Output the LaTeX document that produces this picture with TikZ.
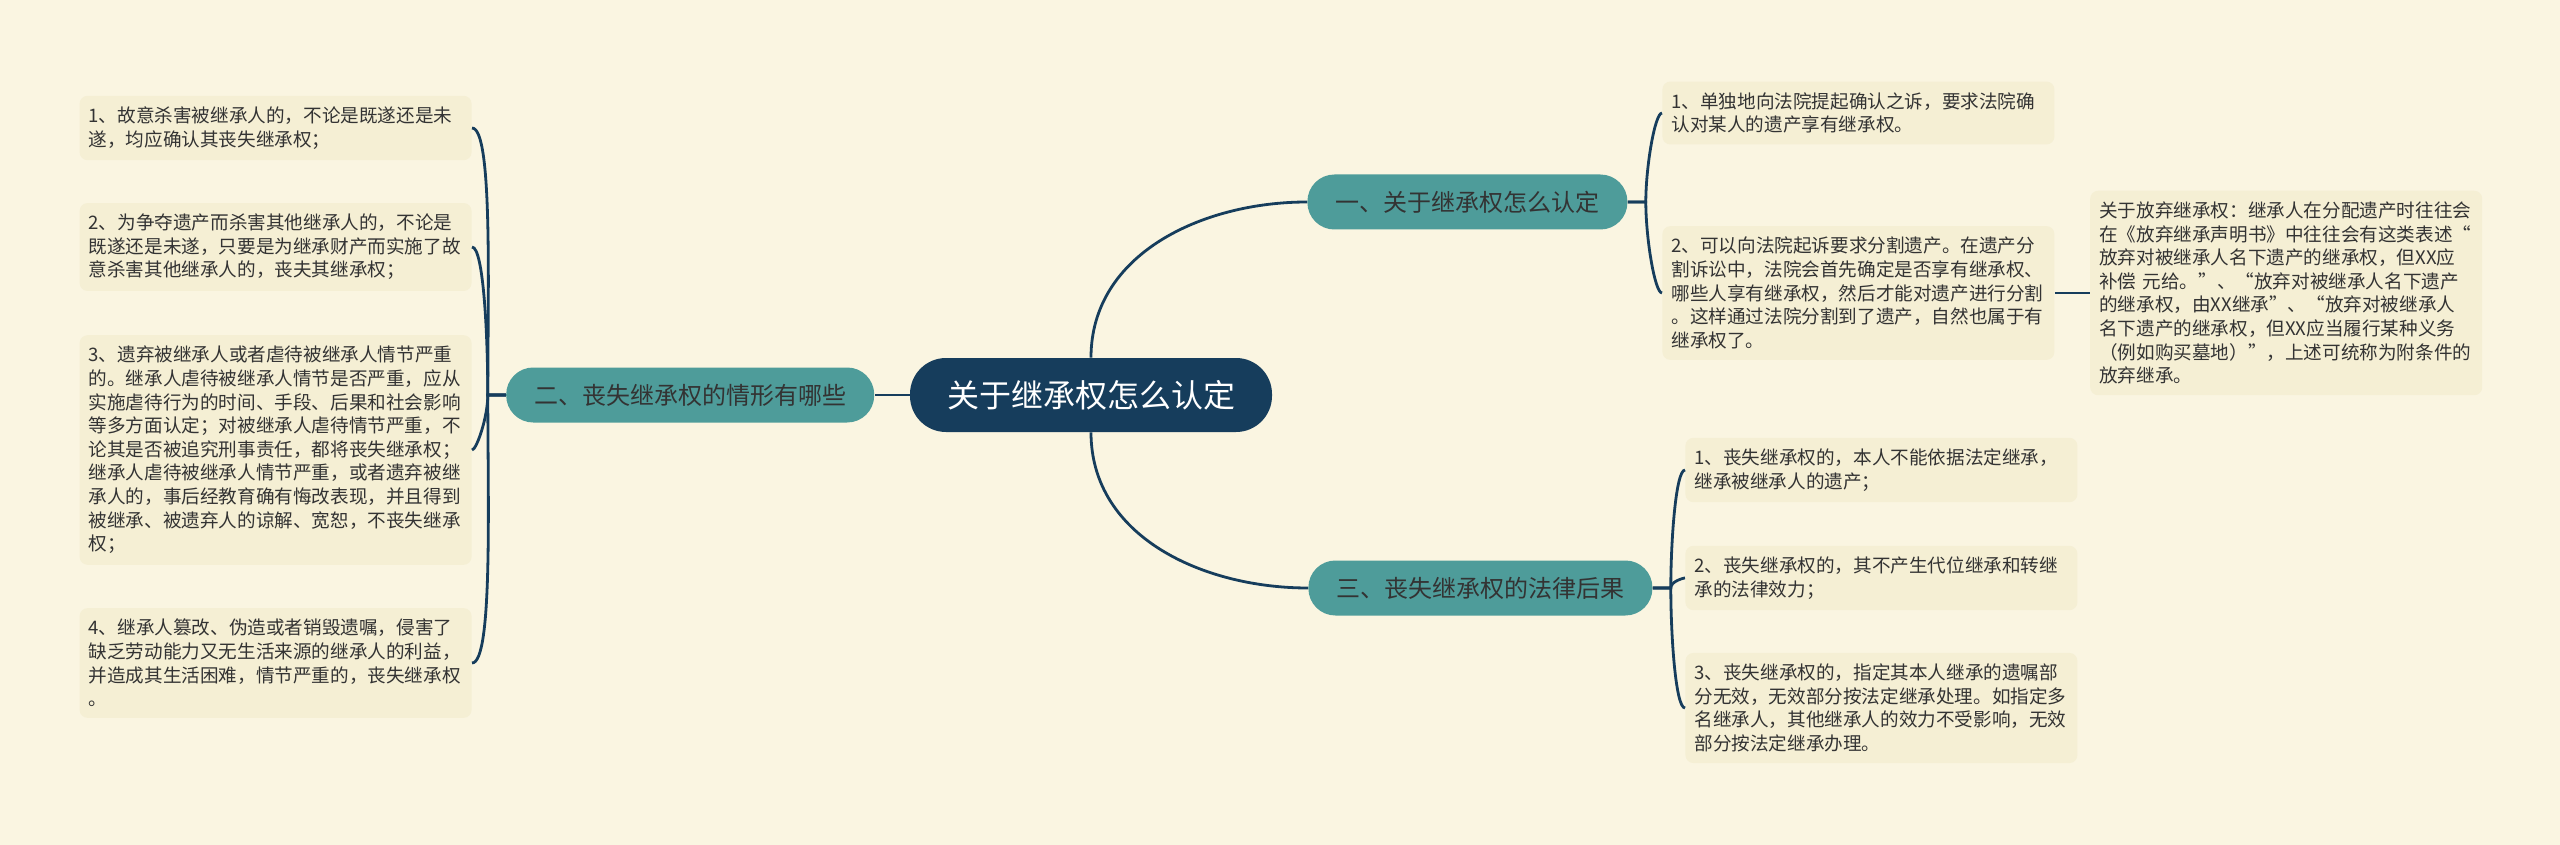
\documentclass[tikz,border=0pt]{standalone}
\usepackage{fontspec}
\setmainfont{Noto Sans CJK SC}
\usepackage{xcolor}
\definecolor{paper}{RGB}{250,245,225}
\definecolor{card}{RGB}{245,239,212}
\definecolor{navy}{RGB}{22,61,92}
\definecolor{teal2}{RGB}{78,156,154}
\definecolor{ink}{RGB}{51,51,51}
\usepackage{tikz}
\usetikzlibrary{positioning}
\tikzset{
  rootbox/.style={fill=navy,text=white,rounded corners=18pt,minimum height=37pt,%
    inner xsep=18.5pt,font=\fontsize{16pt}{19pt}\selectfont},
  branchbox/.style={fill=teal2,text=ink,rounded corners=13.5pt,minimum height=27.5pt,%
    inner xsep=14pt,font=\fontsize{12pt}{14pt}\selectfont},
  leafbox/.style={fill=card,text=ink,rounded corners=4pt,text width=187pt,%
    inner xsep=4.5pt,inner ysep=5.5pt,align=left,font=\fontsize{9.3pt}{11.8pt}\selectfont},
  flow/.style={draw=navy,line width=1.4pt},
  brace/.style={out looseness=1,in looseness=0.2},
}
\begin{document}
\begin{tikzpicture}[x=0.5pt,y=-0.5pt]
\fill[paper] (0,0) rectangle (2560,845);
% centre and main branches
\node[rootbox] (c) at (1091,395) {关于继承权怎么认定};
\node[branchbox,left=17.5pt of c] (b2) {二、丧失继承权的情形有哪些};
\node[branchbox,anchor=west] (b1) at (1307,202) {一、关于继承权怎么认定};
\node[branchbox,anchor=west] (b3) at (1308,588) {三、丧失继承权的法律后果};
% left leaves
\node[leafbox,anchor=east] (l1) at (472,128) {1、故意杀害被继承人的，不论是既遂还是未\\遂，均应确认其丧失继承权；};
\node[leafbox,anchor=east] (l2) at (472,247) {2、为争夺遗产而杀害其他继承人的，不论是\\既遂还是未遂，只要是为继承财产而实施了故\\意杀害其他继承人的，丧夫其继承权；};
\node[leafbox,anchor=east] (l3) at (472,450) {3、遗弃被继承人或者虐待被继承人情节严重\\的。继承人虐待被继承人情节是否严重，应从\\实施虐待行为的时间、手段、后果和社会影响\\等多方面认定；对被继承人虐待情节严重，不\\论其是否被追究刑事责任，都将丧失继承权；\\继承人虐待被继承人情节严重，或者遗弃被继\\承人的，事后经教育确有悔改表现，并且得到\\被继承、被遗弃人的谅解、宽恕，不丧失继承\\权；};
\node[leafbox,anchor=east] (l4) at (472,663) {4、继承人篡改、伪造或者销毁遗嘱，侵害了\\缺乏劳动能力又无生活来源的继承人的利益，\\并造成其生活困难，情节严重的，丧失继承权\\。};
% right leaves
\node[leafbox,anchor=west] (r1) at (1662,113) {1、单独地向法院提起确认之诉，要求法院确\\认对某人的遗产享有继承权。};
\node[leafbox,anchor=west] (r2) at (1662,293) {2、可以向法院起诉要求分割遗产。在遗产分\\割诉讼中，法院会首先确定是否享有继承权、\\哪些人享有继承权，然后才能对遗产进行分割\\。这样通过法院分割到了遗产，自然也属于有\\继承权了。};
\node[leafbox,right=17.5pt of r2] (rn) {关于放弃继承权：继承人在分配遗产时往往会\\在《放弃继承声明书》中往往会有这类表述“\\放弃对被继承人名下遗产的继承权，但XX应\\补偿 元给。”、“放弃对被继承人名下遗产\\的继承权，由XX继承”、“放弃对被继承人\\名下遗产的继承权，但XX应当履行某种义务\\（例如购买墓地）”，上述可统称为附条件的\\放弃继承。};
\node[leafbox,anchor=west] (d1) at (1685,470) {1、丧失继承权的，本人不能依据法定继承，\\继承被继承人的遗产；};
\node[leafbox,anchor=west] (d2) at (1685,578) {2、丧失继承权的，其不产生代位继承和转继\\承的法律效力；};
\node[leafbox,anchor=west] (d3) at (1685,708) {3、丧失继承权的，指定其本人继承的遗嘱部\\分无效，无效部分按法定继承处理。如指定多\\名继承人，其他继承人的效力不受影响，无效\\部分按法定继承办理。};
% connectors
\draw[flow] (c) -- (b2);
\draw[flow] (c.north) to[out=90,in=180] (b1.west);
\draw[flow] (c.south) to[out=-90,in=180] (b3.west);
\foreach \n/\a in {l1/90,l2/90,l3/-90,l4/-90}
  \draw[flow] (b2.west) -- ++(-18,0) to[out=\a,in=0,brace] (\n.east);
\foreach \n/\a in {r1/90,r2/-90}
  \draw[flow] (b1.east) -- ++(18,0) to[out=\a,in=180,brace] (\n.west);
\foreach \n/\a in {d1/90,d2/90,d3/-90}
  \draw[flow] (b3.east) -- ++(18,0) to[out=\a,in=180,brace] (\n.west);
\draw[flow] (r2) -- (rn);
\end{tikzpicture}
\end{document}
